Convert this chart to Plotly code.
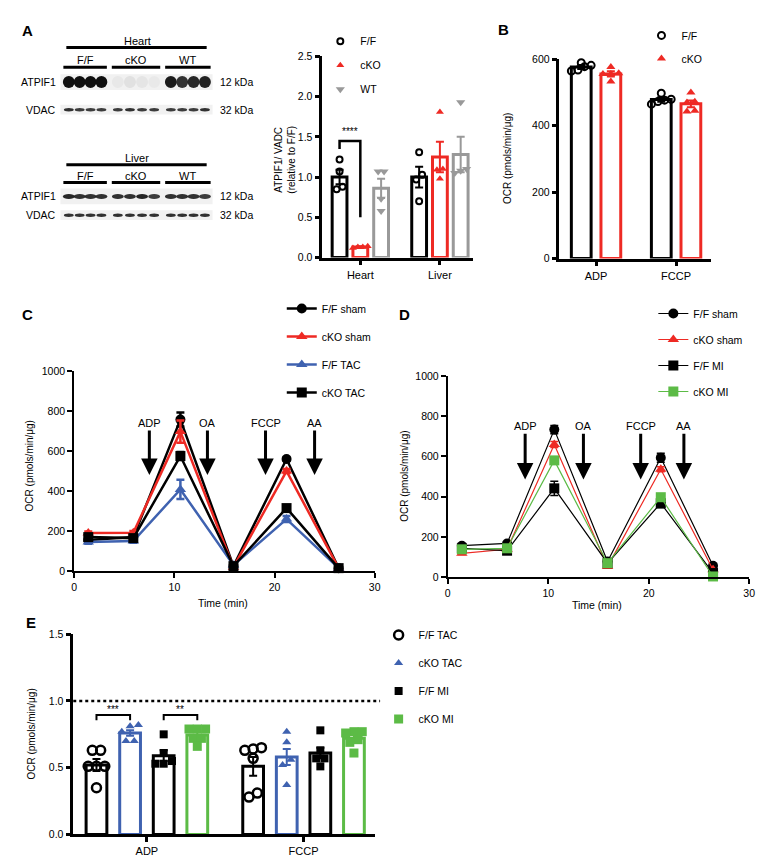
import plotly.graph_objects as go

W, H = 764, 863
FONT = "Liberation Sans, Arial, Helvetica, sans-serif"
BLACK = "#000000"
RED = "#EE2A24"
GRAY = "#999999"
BLUE = "#3F62B0"
GREEN = "#5CBB46"

# ---------------- data ----------------
# Panel A - western blot band intensities (12 lanes: F/F x4, cKO x4, WT x4)
blot_groups = ["F/F", "cKO", "WT"]
heart_atpif1 = [1.0, 1.0, 1.0, 1.0, 0.04, 0.07, 0.05, 0.03, 0.95, 0.85, 0.9, 0.92]
heart_vdac = [0.85, 0.8, 0.8, 0.8, 0.8, 0.85, 0.8, 0.8, 0.8, 0.8, 0.8, 0.85]
liver_atpif1 = [0.9, 0.85, 0.85, 0.85, 0.85, 0.85, 0.9, 0.8, 0.85, 0.85, 0.85, 0.8]
liver_vdac = [0.85, 0.85, 0.85, 0.85, 0.85, 0.85, 0.85, 0.85, 0.85, 0.85, 0.85, 0.85]

# Panel A - quantification
a_categories = ["Heart", "Liver"]
a_ff_mean = [1.00, 1.00]
a_ff_sem = [0.09, 0.13]
a_ff_points = [[1.22, 1.07, 0.88, 0.85], [1.31, 1.03, 0.97, 0.70]]
a_cko_mean = [0.13, 1.25]
a_cko_sem = [0.01, 0.19]
a_cko_points = [[0.14, 0.13, 0.12, 0.13], [1.81, 1.10, 1.09, 0.98]]
a_wt_mean = [0.86, 1.28]
a_wt_sem = [0.12, 0.22]
a_wt_points = [[1.07, 1.07, 0.73, 0.58], [1.93, 1.10, 1.08, 1.05]]

# Panel B
b_categories = ["ADP", "FCCP"]
b_ff_mean = [577, 479]
b_ff_sem = [6, 7]
b_ff_points = [[590, 565, 568, 578, 582], [498, 465, 480, 477, 473]]
b_cko_mean = [556, 466]
b_cko_sem = [8, 10]
b_cko_points = [[577, 533, 556, 558, 556], [500, 443, 445, 472, 470]]

# Panel C
c_time = [1.4, 5.9, 10.6, 15.9, 21.2, 26.4]
c_ff_sham = [155, 170, 757, 25, 560, 15]
c_ff_sham_err = [8, 8, 35, 4, 8, 3]
c_cko_sham = [190, 192, 697, 20, 500, 15]
c_cko_sham_err = [8, 8, 55, 4, 10, 3]
c_ff_tac = [145, 150, 408, 30, 260, 15]
c_ff_tac_err = [8, 8, 48, 4, 15, 3]
c_cko_tac = [170, 165, 575, 25, 315, 15]
c_cko_tac_err = [8, 8, 20, 4, 10, 3]
c_injections = ["ADP", "OA", "FCCP", "AA"]
c_injection_times = [7.5, 13.3, 19.1, 24.0]

# Panel D
d_time = [1.4, 5.9, 10.6, 15.9, 21.2, 26.4]
d_ff_sham = [156, 167, 733, 77, 593, 56]
d_ff_sham_err = [6, 6, 20, 5, 22, 5]
d_cko_sham = [118, 138, 659, 52, 536, 36]
d_cko_sham_err = [6, 6, 15, 5, 12, 5]
d_ff_mi = [143, 131, 441, 69, 367, 20]
d_ff_mi_err = [6, 6, 35, 5, 22, 4]
d_cko_mi = [138, 143, 580, 69, 397, 3]
d_cko_mi_err = [6, 6, 15, 5, 15, 3]
d_injections = ["ADP", "OA", "FCCP", "AA"]
d_injection_times = [7.7, 13.5, 19.2, 23.5]

# Panel E
e_categories = ["ADP", "FCCP"]
e_fftac_mean = [0.52, 0.51]
e_fftac_sem = [0.045, 0.07]
e_fftac_points = [[0.63, 0.63, 0.51, 0.51, 0.51, 0.35], [0.64, 0.63, 0.65, 0.57, 0.31, 0.28]]
e_ckotac_mean = [0.76, 0.58]
e_ckotac_sem = [0.02, 0.06]
e_ckotac_points = [[0.82, 0.81, 0.77, 0.70, 0.70], [0.77, 0.69, 0.56, 0.52, 0.37]]
e_ffmi_mean = [0.59, 0.61]
e_ffmi_sem = [0.04, 0.04]
e_ffmi_points = [[0.75, 0.61, 0.55, 0.53, 0.53], [0.78, 0.63, 0.57, 0.57, 0.51]]
e_ckomi_mean = [0.745, 0.72]
e_ckomi_sem = [0.025, 0.03]
e_ckomi_points = [[0.79, 0.79, 0.79, 0.72, 0.72, 0.66], [0.77, 0.77, 0.76, 0.71, 0.69, 0.61]]

# ---------------- helpers ----------------
def X(x):
    return x / W

def Y(y):
    return 1 - y / H

def xdom(a, b):
    return [X(a), X(b)]

def ydom(top, bottom):
    return [Y(bottom), Y(top)]

fig = go.Figure()
shapes = []
annotations = []

def text(x, y, s, size=10, anchor="center", bold=False, angle=0, color=BLACK):
    annotations.append(dict(x=X(x), y=Y(y), xref="paper", yref="paper", text=("<b>%s</b>" % s) if bold else s,
                            showarrow=False, xanchor=anchor, yanchor="middle", textangle=angle,
                            font=dict(family=FONT, size=size, color=color)))

def hline(x0, x1, y, width=3):
    shapes.append(dict(type="line", xref="paper", yref="paper", x0=X(x0), x1=X(x1), y0=Y(y), y1=Y(y),
                       line=dict(color=BLACK, width=width)))

# ---------------- Panel A blot ----------------
group_spans = [(53, 97), (102, 151), (156, 202)]

def blot_strip(y_top, y_bot, intens, band_w, band_h):
    shapes.append(dict(type="rect", xref="paper", yref="paper", x0=X(50), x1=X(204), y0=Y(y_bot), y1=Y(y_top),
                       fillcolor="#f1f1f1", line=dict(width=0), layer="below"))
    yc = (y_top + y_bot) / 2
    for g, (g0, g1) in enumerate(group_spans):
        step = (g1 - g0) / 4
        for k in range(4):
            v = intens[g * 4 + k]
            xc = g0 + step * (k + 0.5)
            shapes.append(dict(type="circle", xref="paper", yref="paper",
                               x0=X(xc - band_w / 2), x1=X(xc + band_w / 2),
                               y0=Y(yc + band_h / 2), y1=Y(yc - band_h / 2),
                               fillcolor="rgba(15,15,15,%.2f)" % v, line=dict(width=0)))

def blot_block(title, y_title, y_tline, y_glabel, y_gline, y_a, y_v, a_int, v_int, a_band_h):
    text(128, y_title, title, 11)
    hline(56, 198, y_tline, 3)
    for g, (g0, g1) in enumerate(group_spans):
        hline(g0, g1, y_gline, 3)
        text((g0 + g1) / 2, y_glabel, blot_groups[g], 11)
    text(48, y_a, "ATPIF1", 10.5, anchor="right")
    text(48, y_v, "VDAC", 10.5, anchor="right")
    text(209, y_a, "12 kDa", 10.5, anchor="left")
    text(209, y_v, "32 kDa", 10.5, anchor="left")
    blot_strip(y_a - 8, y_a + 8, a_int, 12, a_band_h)
    blot_strip(y_v - 5, y_v + 5, v_int, 10, 3.5)

blot_block("Heart", 27, 34, 47, 54, 69, 97, heart_atpif1, heart_vdac, 12)
blot_block("Liver", 146, 153, 164, 171, 185, 204, liver_atpif1, liver_vdac, 5)

# ---------------- bar panels ----------------
def swarm_offsets(vals, tol, step, max_half):
    """Prism-like column scatter: points within tol of a row's first value share a row and spread sideways."""
    order = sorted(range(len(vals)), key=lambda i: vals[i])
    offs = [0.0] * len(vals)
    clusters, cur = [], [order[0]]
    for i in order[1:]:
        if vals[i] - vals[cur[0]] < tol:
            cur.append(i)
        else:
            clusters.append(cur)
            cur = [i]
    clusters.append(cur)
    for cl in clusters:
        m = len(cl)
        if m == 1:
            continue
        st = min(step, 2 * max_half / (m - 1))
        for k, i in enumerate(cl):
            offs[i] = (k - (m - 1) / 2) * st
    return offs

def bar_panel(xa, ya, n_cat, series, slot, bw, legend_name, tol):
    ns = len(series)
    centers = []
    for g, s in enumerate(series):
        off = (g - (ns - 1) / 2) * slot
        xs = [i + off for i in range(n_cat)]
        centers.append(xs)
        fig.add_trace(go.Bar(x=xs, y=s["mean"], width=bw, xaxis=xa, yaxis=ya, showlegend=False,
                             marker=dict(color="white", line=dict(color=s["color"], width=3)),
                             error_y=dict(type="data", array=s["sem"], color=s["color"], thickness=2, width=4),
                             hoverinfo="skip"))
    for g, s in enumerate(series):
        px_, py_ = [], []
        for i, pts in enumerate(s["points"]):
            offs = swarm_offsets(pts, tol, bw * 0.4, bw * 0.5)
            for v, dx in zip(pts, offs):
                px_.append(centers[g][i] + dx)
                py_.append(v)
        fig.add_trace(go.Scatter(x=px_, y=py_, mode="markers", name=s["name"], xaxis=xa, yaxis=ya,
                                 legend=legend_name, legendgroup=legend_name + s["name"],
                                 marker=s["marker"], cliponaxis=False))
    return centers

a_series = [
    dict(name="F/F", mean=a_ff_mean, sem=a_ff_sem, points=a_ff_points, color=BLACK,
         marker=dict(symbol="circle-open", size=6, color=BLACK, line=dict(width=2))),
    dict(name="cKO", mean=a_cko_mean, sem=a_cko_sem, points=a_cko_points, color=RED,
         marker=dict(symbol="triangle-up", size=7, color=RED)),
    dict(name="WT", mean=a_wt_mean, sem=a_wt_sem, points=a_wt_points, color=GRAY,
         marker=dict(symbol="triangle-down", size=8, color=GRAY)),
]
a_centers = bar_panel("x", "y", len(a_categories), a_series, 0.261, 0.186, "legend", 0.09)

b_series = [
    dict(name="F/F", mean=b_ff_mean, sem=b_ff_sem, points=b_ff_points, color=BLACK,
         marker=dict(symbol="circle-open", size=7, color=BLACK, line=dict(width=2))),
    dict(name="cKO", mean=b_cko_mean, sem=b_cko_sem, points=b_cko_points, color=RED,
         marker=dict(symbol="triangle-up", size=8, color=RED)),
]
bar_panel("x2", "y2", len(b_categories), b_series, 0.370, 0.247, "legend2", 20)

e_series = [
    dict(name="F/F TAC", mean=e_fftac_mean, sem=e_fftac_sem, points=e_fftac_points, color=BLACK,
         marker=dict(symbol="circle-open", size=9, color=BLACK, line=dict(width=2.5))),
    dict(name="cKO TAC", mean=e_ckotac_mean, sem=e_ckotac_sem, points=e_ckotac_points, color=BLUE,
         marker=dict(symbol="triangle-up", size=8, color=BLUE)),
    dict(name="F/F MI", mean=e_ffmi_mean, sem=e_ffmi_sem, points=e_ffmi_points, color=BLACK,
         marker=dict(symbol="square", size=8, color=BLACK)),
    dict(name="cKO MI", mean=e_ckomi_mean, sem=e_ckomi_sem, points=e_ckomi_points, color=GREEN,
         marker=dict(symbol="square", size=9, color=GREEN)),
]
e_centers = bar_panel("x5", "y5", len(e_categories), e_series, 0.2145, 0.1325, "legend5", 0.05)

def bracket(xa, ya, x1, x2, ytop, yl1, yl2, stars, ystar, width=2):
    shapes.append(dict(type="path", xref=xa, yref=ya,
                       path="M %f,%f L %f,%f L %f,%f L %f,%f" % (x1, yl1, x1, ytop, x2, ytop, x2, yl2),
                       line=dict(color=BLACK, width=width)))
    annotations.append(dict(x=(x1 + x2) / 2, y=ystar, xref=xa, yref=ya, text=stars, showarrow=False,
                            font=dict(family=FONT, size=10, color=BLACK)))

bracket("x", "y", a_centers[0][0], a_centers[1][0], 1.45, 1.35, 0.50, "****", 1.57, 2.5)
bracket("x5", "y5", e_centers[0][0], e_centers[1][0], 0.895, 0.855, 0.855, "***", 0.935)
bracket("x5", "y5", e_centers[2][0], e_centers[3][0], 0.895, 0.855, 0.855, "**", 0.935)

shapes.append(dict(type="line", xref="x5 domain", yref="y5", x0=0, x1=1.018, y0=1.0, y1=1.0,
                   line=dict(color=BLACK, width=2.5, dash="dot")))

# ---------------- line panels ----------------
def line_trace(xa, ya, t, y, err, name, color, symbol, lw, legend_name, size=10):
    fig.add_trace(go.Scatter(x=t, y=y, mode="lines+markers", name=name, xaxis=xa, yaxis=ya,
                             legend=legend_name, legendgroup=legend_name + name,
                             line=dict(color=color, width=lw),
                             marker=dict(symbol=symbol, size=size, color=color),
                             error_y=dict(type="data", array=err, color=color, thickness=max(lw, 1.5), width=4),
                             cliponaxis=False))

line_trace("x3", "y3", c_time, c_ff_sham, c_ff_sham_err, "F/F sham", BLACK, "circle", 2.5, "legend3")
line_trace("x3", "y3", c_time, c_cko_sham, c_cko_sham_err, "cKO sham", RED, "triangle-up", 2.5, "legend3")
line_trace("x3", "y3", c_time, c_ff_tac, c_ff_tac_err, "F/F TAC", BLUE, "triangle-up", 2.5, "legend3")
line_trace("x3", "y3", c_time, c_cko_tac, c_cko_tac_err, "cKO TAC", BLACK, "square", 2.5, "legend3")

line_trace("x4", "y4", d_time, d_ff_sham, d_ff_sham_err, "F/F sham", BLACK, "circle", 1.2, "legend4")
line_trace("x4", "y4", d_time, d_cko_sham, d_cko_sham_err, "cKO sham", RED, "triangle-up", 1.2, "legend4")
line_trace("x4", "y4", d_time, d_ff_mi, d_ff_mi_err, "F/F MI", BLACK, "square", 1.2, "legend4")
line_trace("x4", "y4", d_time, d_cko_mi, d_cko_mi_err, "cKO MI", GREEN, "square", 1.2, "legend4")

def injections(xa, ya, names, times, y_text, y_tip):
    for nm, t in zip(names, times):
        annotations.append(dict(x=t, y=y_tip, ax=t, ay=y_text, xref=xa, yref=ya, axref=xa, ayref=ya,
                                text=nm, showarrow=True, arrowhead=2, arrowsize=1.1, arrowwidth=3,
                                arrowcolor=BLACK, standoff=0, startstandoff=0,
                                font=dict(family=FONT, size=11, color=BLACK)))

injections("x3", "y3", c_injections, c_injection_times, 740, 480)
injections("x4", "y4", d_injections, d_injection_times, 750, 485)

# ---------------- texts ----------------
text(17, 17, "A", 15, bold=True)
text(498, 16, "B", 15, bold=True)
text(17, 305, "C", 15, bold=True)
text(398, 305, "D", 15, bold=True)
text(20, 617, "E", 15, bold=True)

text(277, 148, "ATPIF1/ VADC<br>(relative to F/F)", 10, angle=-90)
text(503, 147, "OCR (pmols/min/μg)", 10, angle=-90)
text(19, 458, "OCR (pmols/min/μg)", 10, angle=-90)
text(398, 469, "OCR (pmols/min/μg)", 10, angle=-90)
text(21, 730, "OCR (pmols/min/μg)", 10, angle=-90)
text(215, 597, "Time (min)", 10.5)
text(593, 599, "Time (min)", 10.5)

# ---------------- axes ----------------
def ax_style(lw=2.5, **kw):
    d = dict(showline=True, linecolor=BLACK, linewidth=lw, ticks="outside", ticklen=5, tickwidth=lw,
             tickcolor=BLACK, showgrid=False, zeroline=False, mirror=False,
             tickfont=dict(family=FONT, size=10.5, color=BLACK), fixedrange=True)
    d.update(kw)
    return d

layout_axes = dict(
    xaxis=ax_style(domain=xdom(315, 468), range=[-0.478, 1.422], tickvals=list(range(len(a_categories))),
                   ticktext=a_categories, anchor="y", tickfont=dict(family=FONT, size=11, color=BLACK)),
    yaxis=ax_style(domain=ydom(43, 247), range=[0, 2.5], dtick=0.5, tickformat=".1f", anchor="x"),
    xaxis2=ax_style(domain=xdom(555, 708), range=[-0.457, 1.432], tickvals=list(range(len(b_categories))),
                    ticktext=b_categories, anchor="y2", tickfont=dict(family=FONT, size=11, color=BLACK)),
    yaxis2=ax_style(domain=ydom(46, 248), range=[0, 600], dtick=200, anchor="x2"),
    xaxis3=ax_style(lw=2, domain=xdom(64, 368), range=[0, 30], dtick=10, anchor="y3"),
    yaxis3=ax_style(lw=2, domain=ydom(362, 565), range=[0, 1000], dtick=200, anchor="x3"),
    xaxis4=ax_style(lw=2, domain=xdom(442, 747), range=[0, 30], dtick=10, anchor="y4"),
    yaxis4=ax_style(lw=2, domain=ydom(367, 571), range=[0, 1000], dtick=200, anchor="x4"),
    xaxis5=ax_style(domain=xdom(63, 368), range=[-0.47, 1.454], tickvals=list(range(len(e_categories))),
                    ticktext=e_categories, anchor="y5", tickfont=dict(family=FONT, size=11, color=BLACK)),
    yaxis5=ax_style(domain=ydom(629, 832), range=[0, 1.5], dtick=0.5, tickformat=".1f", anchor="x5"),
)

def legend_cfg(x, y, gap):
    return dict(x=X(x), y=Y(y), xanchor="left", yanchor="top", bgcolor="rgba(0,0,0,0)",
                font=dict(family=FONT, size=10.5, color=BLACK), tracegroupgap=gap, borderwidth=0)

fig.update_layout(
    width=W, height=H, margin=dict(l=0, r=0, t=0, b=0), autosize=False,
    paper_bgcolor="white", plot_bgcolor="rgba(0,0,0,0)",
    barmode="overlay", font=dict(family=FONT, size=10, color=BLACK),
    shapes=shapes, annotations=annotations, hovermode=False,
    legend=legend_cfg(313, 13, 5),
    legend2=legend_cfg(638, 7, 4),
    legend3=legend_cfg(274, 284, 9),
    legend4=legend_cfg(650, 289, 7),
    legend5=legend_cfg(372, 615, 9),
    **layout_axes,
)

fig.write_html("out.html")
